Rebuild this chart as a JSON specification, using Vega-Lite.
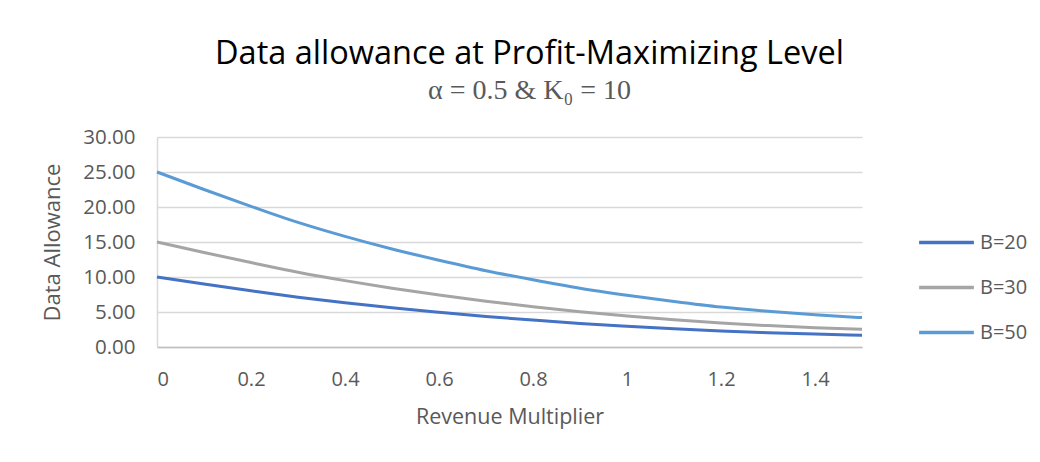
{
  "$schema": "https://vega.github.io/schema/vega-lite/v6.json",
  "autosize": {"type": "none"},
  "width": 705,
  "height": 210,
  "padding": {"left": 157, "top": 137, "right": 178, "bottom": 115},
  "background": "white",
  "title": {
    "text": "Data allowance at Profit-Maximizing Level",
    "subtitle": "α = 0.5 & K₀ = 10",
    "anchor": "middle",
    "frame": "group",
    "dx": 20,
    "offset": 22,
    "font": "Open Sans",
    "fontSize": 32.5,
    "fontWeight": "normal",
    "color": "#000000",
    "subtitleFont": "Liberation Serif",
    "subtitleFontSize": 28,
    "subtitleColor": "#595959",
    "subtitlePadding": 7
  },
  "data": {
    "values": [
      {"x": 0.0, "s": "B=20", "v": 10.0}, {"x": 0.1, "s": "B=20", "v": 9.0}, {"x": 0.2, "s": "B=20", "v": 8.04}, {"x": 0.3, "s": "B=20", "v": 7.12}, {"x": 0.4, "s": "B=20", "v": 6.32}, {"x": 0.5, "s": "B=20", "v": 5.6}, {"x": 0.6, "s": "B=20", "v": 4.96}, {"x": 0.7, "s": "B=20", "v": 4.36}, {"x": 0.8, "s": "B=20", "v": 3.84}, {"x": 0.9, "s": "B=20", "v": 3.36}, {"x": 1.0, "s": "B=20", "v": 2.96}, {"x": 1.1, "s": "B=20", "v": 2.6}, {"x": 1.2, "s": "B=20", "v": 2.28}, {"x": 1.3, "s": "B=20", "v": 2.04}, {"x": 1.4, "s": "B=20", "v": 1.84}, {"x": 1.5, "s": "B=20", "v": 1.68},
      {"x": 0.0, "s": "B=30", "v": 15.0}, {"x": 0.1, "s": "B=30", "v": 13.5}, {"x": 0.2, "s": "B=30", "v": 12.06}, {"x": 0.3, "s": "B=30", "v": 10.68}, {"x": 0.4, "s": "B=30", "v": 9.48}, {"x": 0.5, "s": "B=30", "v": 8.4}, {"x": 0.6, "s": "B=30", "v": 7.44}, {"x": 0.7, "s": "B=30", "v": 6.54}, {"x": 0.8, "s": "B=30", "v": 5.76}, {"x": 0.9, "s": "B=30", "v": 5.04}, {"x": 1.0, "s": "B=30", "v": 4.44}, {"x": 1.1, "s": "B=30", "v": 3.9}, {"x": 1.2, "s": "B=30", "v": 3.42}, {"x": 1.3, "s": "B=30", "v": 3.06}, {"x": 1.4, "s": "B=30", "v": 2.76}, {"x": 1.5, "s": "B=30", "v": 2.52},
      {"x": 0.0, "s": "B=50", "v": 25.0}, {"x": 0.1, "s": "B=50", "v": 22.5}, {"x": 0.2, "s": "B=50", "v": 20.1}, {"x": 0.3, "s": "B=50", "v": 17.8}, {"x": 0.4, "s": "B=50", "v": 15.8}, {"x": 0.5, "s": "B=50", "v": 14.0}, {"x": 0.6, "s": "B=50", "v": 12.4}, {"x": 0.7, "s": "B=50", "v": 10.9}, {"x": 0.8, "s": "B=50", "v": 9.6}, {"x": 0.9, "s": "B=50", "v": 8.4}, {"x": 1.0, "s": "B=50", "v": 7.4}, {"x": 1.1, "s": "B=50", "v": 6.5}, {"x": 1.2, "s": "B=50", "v": 5.7}, {"x": 1.3, "s": "B=50", "v": 5.1}, {"x": 1.4, "s": "B=50", "v": 4.6}, {"x": 1.5, "s": "B=50", "v": 4.2}
    ]
  },
  "mark": {"type": "line", "strokeWidth": 3, "interpolate": "monotone"},
  "encoding": {
    "x": {
      "field": "x", "type": "quantitative",
      "scale": {"domain": [0, 1.5], "nice": false},
      "axis": {
        "title": "Revenue Multiplier",
        "values": [0, 0.2, 0.4, 0.6, 0.8, 1, 1.2, 1.4],
        "format": "~g",
        "grid": false, "ticks": false,
        "domainColor": "#bfbfbf", "domainWidth": 1.5,
        "labelPadding": 22, "labelFont": "Open Sans", "labelFontSize": 20, "labelColor": "#595959",
        "titlePadding": 17, "titleFont": "Open Sans", "titleFontSize": 21.5, "titleFontWeight": "normal", "titleColor": "#595959"
      }
    },
    "y": {
      "field": "v", "type": "quantitative",
      "scale": {"domain": [0, 30], "nice": false},
      "axis": {
        "title": "Data Allowance",
        "values": [0, 5, 10, 15, 20, 25, 30],
        "format": ".2f",
        "grid": true, "gridColor": "#d9d9d9", "gridWidth": 1.5,
        "ticks": false,
        "domainColor": "#d9d9d9", "domainWidth": 1.5,
        "labelPadding": 22, "labelFont": "Open Sans", "labelFontSize": 20.5, "labelColor": "#595959",
        "titlePadding": 18, "titleFont": "Open Sans", "titleFontSize": 22, "titleFontWeight": "normal", "titleColor": "#595959"
      }
    },
    "color": {
      "field": "s", "type": "nominal",
      "scale": {"domain": ["B=20", "B=30", "B=50"], "range": ["#4472C4", "#A5A5A5", "#5B9BD5"]},
      "legend": {
        "title": null,
        "orient": "none",
        "legendX": 760,
        "legendY": 76,
        "symbolType": "stroke",
        "symbolSize": 3000,
        "symbolStrokeWidth": 3.5,
        "rowPadding": 5,
        "labelFont": "Open Sans", "labelFontSize": 20, "labelColor": "#595959",
        "labelOffset": 4
      }
    }
  },
  "config": {"view": {"stroke": null}}
}
